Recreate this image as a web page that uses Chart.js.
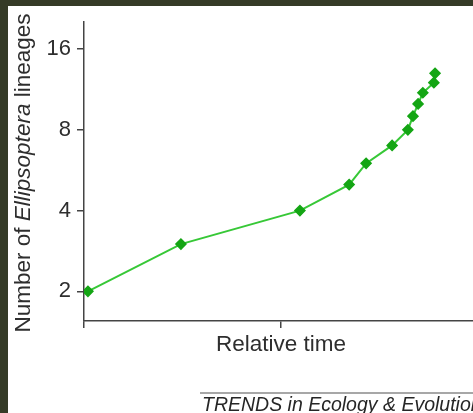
<!DOCTYPE html>
<html>
<head>
<meta charset="utf-8">
<script src="https://cdn.jsdelivr.net/npm/chart.js@4/dist/chart.umd.min.js"></script>
<style>
  html, body { margin: 0; padding: 0; background: #ffffff; overflow: hidden; }
  #wrap { width: 473px; height: 413px; overflow: hidden; position: relative; }
  canvas { display: block; }
</style>
</head>
<body>
<div id="wrap"><canvas id="c" width="490" height="413"></canvas></div>
<script>
// Lineage-through-time data: relative time (0..1) and number of lineages
const relativeTime = [0.010, 0.246, 0.548, 0.673, 0.716, 0.782, 0.822, 0.835, 0.848, 0.860, 0.888, 0.891];
const lineages     = [2, 3, 4, 5, 6, 7, 8, 9, 10, 11, 12, 13];
const yTicks = [2, 4, 8, 16];
const xTicks = [0, 0.5, 1];

const FONT = '"Liberation Sans", Arial, Helvetica, sans-serif';
const INK = '#2e2e2e';
const AXIS = '#444444';

const points = relativeTime.map((t, i) => ({ x: t, y: lineages[i] }));

// Frame, axis titles and caption drawn around the plot
const decorations = {
  id: 'decorations',
  beforeDraw(chart) {
    const ctx = chart.ctx;
    ctx.save();
    ctx.fillStyle = '#ffffff';
    ctx.fillRect(0, 0, chart.width, chart.height);
    ctx.fillStyle = '#353b27';
    ctx.fillRect(0, 0, chart.width, 6);
    ctx.fillRect(0, 0, 8, chart.height);
    ctx.restore();
  },
  afterDraw(chart) {
    const ctx = chart.ctx;
    const area = chart.chartArea;
    ctx.save();
    ctx.fillStyle = INK;

    // x-axis title
    ctx.font = '22.5px ' + FONT;
    ctx.textAlign = 'center';
    ctx.textBaseline = 'alphabetic';
    ctx.fillText('Relative time', (area.left + area.right) / 2, 351);

    // y-axis title with the genus name in italics
    const parts = [
      { t: 'Number of ', f: '22.5px ' + FONT },
      { t: 'Ellipsoptera', f: 'italic 22.5px ' + FONT },
      { t: ' lineages', f: '22.5px ' + FONT }
    ];
    let total = 0;
    parts.forEach(p => { ctx.font = p.f; p.w = ctx.measureText(p.t).width; total += p.w; });
    ctx.translate(30, 173);
    ctx.rotate(-Math.PI / 2);
    ctx.textAlign = 'left';
    let x = -total / 2;
    parts.forEach(p => { ctx.font = p.f; ctx.fillText(p.t, x, 0); x += p.w; });
    ctx.setTransform(1, 0, 0, 1, 0, 0);

    // caption rule and journal caption
    ctx.strokeStyle = '#8a8a8a';
    ctx.lineWidth = 1.5;
    ctx.beginPath();
    ctx.moveTo(200, 393);
    ctx.lineTo(chart.width, 393);
    ctx.stroke();
    ctx.fillStyle = '#262626';
    ctx.font = 'italic 19.5px ' + FONT;
    ctx.textAlign = 'left';
    ctx.fillText('TRENDS in Ecology & Evolution', 202, 411);
    ctx.restore();
  }
};

new Chart(document.getElementById('c'), {
  type: 'line',
  data: {
    datasets: [{
      data: points,
      borderColor: 'rgb(55, 200, 55)',
      borderWidth: 2,
      backgroundColor: 'rgb(20, 165, 20)',
      pointBackgroundColor: 'rgb(20, 165, 20)',
      pointBorderColor: 'rgb(20, 165, 20)',
      pointBorderWidth: 1.5,
      pointStyle: 'rectRot',
      pointRadius: 5,
      tension: 0,
      fill: false
    }]
  },
  options: {
    responsive: false,
    animation: false,
    events: [],
    layout: { padding: { top: 22, right: 12, bottom: 0, left: 0 } },
    plugins: { legend: { display: false }, tooltip: { enabled: false } },
    scales: {
      x: {
        type: 'linear',
        min: 0,
        max: 1,
        afterBuildTicks: s => { s.ticks = xTicks.map(v => ({ value: v })); },
        afterFit: s => { s.height = 92; },
        border: { display: true, color: AXIS, width: 1.5 },
        grid: { display: true, drawOnChartArea: false, drawTicks: true, tickLength: 7, color: AXIS, lineWidth: 1.5 },
        ticks: { display: true, callback: () => '', font: { size: 1 } }
      },
      y: {
        type: 'logarithmic',
        min: 1.55,
        max: 20.2,
        afterBuildTicks: s => { s.ticks = yTicks.map(v => ({ value: v })); },
        afterFit: s => { s.width = 84; },
        border: { display: true, color: AXIS, width: 1.5 },
        grid: { display: true, drawOnChartArea: false, drawTicks: true, tickLength: 7, color: AXIS, lineWidth: 1.5 },
        ticks: {
          color: INK,
          padding: 6,
          font: { family: FONT, size: 22 },
          callback: v => String(v)
        }
      }
    }
  },
  plugins: [decorations]
});
</script>
</body>
</html>
